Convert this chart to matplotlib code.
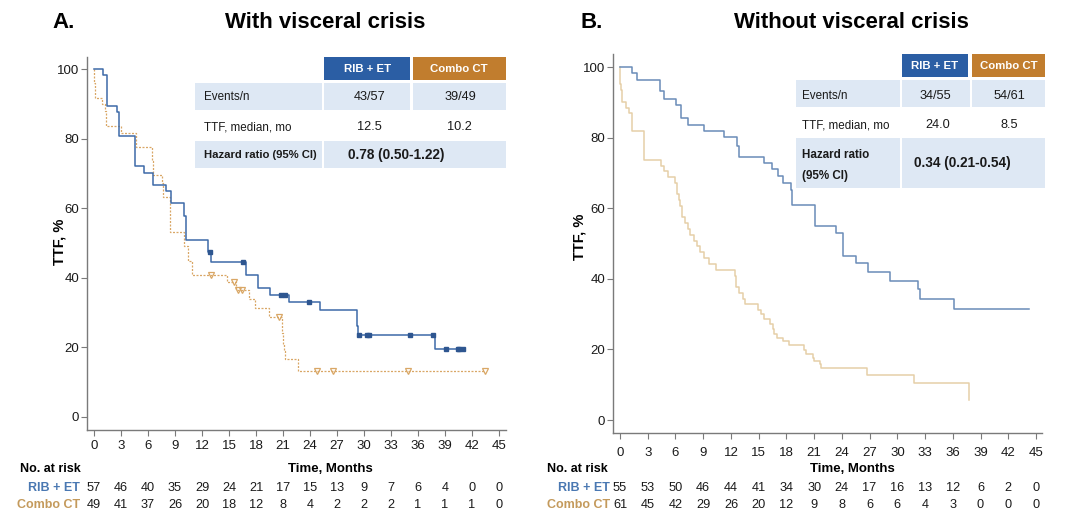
import matplotlib
matplotlib.use("Agg")
import matplotlib.pyplot as plt
import numpy as np
from matplotlib import font_manager
from matplotlib.patches import Rectangle
from matplotlib.transforms import blended_transform_factory

# ---- data ----
months = [0, 3, 6, 9, 12, 15, 18, 21, 24, 27, 30, 33, 36, 39, 42, 45]
y_ticks = [0, 20, 40, 60, 80, 100]

# Panel A: with visceral crisis (step times in months, TTF % after each step)
a_rib_t = [0, 1.0, 1.4, 2.5, 2.75, 4.6, 5.5, 6.5, 8.0, 8.6, 10.0, 10.2, 12.7, 13.0,
           16.85, 18.2, 19.5, 21.7, 25.1, 29.2, 29.35, 37.9, 41.0]
a_rib_s = [100, 98.2, 89.5, 87.7, 80.7, 72.0, 70.2, 66.7, 64.9, 61.4, 57.9, 50.9, 47.4, 44.5,
           40.8, 37.0, 35.1, 33.0, 30.8, 26.1, 23.7, 19.4, 19.4]
a_rib_cens = [12.9, 16.56, 20.8, 21.2, 23.9, 29.45, 30.3, 30.55, 35.1, 37.7, 39.1, 40.4, 40.6, 41.0]

a_cmb_t = [0, 0.05, 0.1, 0.94, 1.19, 1.3, 3.05, 4.7, 6.4, 6.6, 7.5, 7.7, 8.4, 10.0, 10.4, 10.9,
           14.8, 15.8, 17.2, 17.9, 19.4, 20.9, 21.0, 21.1, 21.2, 22.7, 43.5]
a_cmb_s = [100, 95.9, 91.8, 89.8, 87.8, 83.7, 81.6, 77.6, 73.5, 69.4, 67.3, 63.3, 53.1, 49.0, 44.9, 40.8,
           38.7, 36.4, 33.8, 31.2, 28.6, 24.0, 21.0, 19.0, 16.7, 13.3, 13.3]
a_cmb_cens = [13.0, 15.5, 16.0, 16.4, 20.6, 24.8, 26.6, 34.9, 43.5]

a_risk_rib = [57, 46, 40, 35, 29, 24, 21, 17, 15, 13, 9, 7, 6, 4, 0, 0]
a_risk_cmb = [49, 41, 37, 26, 20, 18, 12, 8, 4, 2, 2, 2, 1, 1, 1, 0]

# Panel B: without visceral crisis
b_rib_t = [0, 1.31, 1.87, 4.34, 4.76, 6.10, 6.59, 7.40, 9.1, 11.27, 12.68, 12.86, 15.6, 16.4,
           17.1, 17.6, 18.5, 18.6, 21.1, 23.4, 24.1, 25.5, 26.8, 29.2, 32.2, 32.5, 36.1, 44.2]
b_rib_s = [100, 98.2, 96.4, 93.1, 90.9, 89.3, 85.6, 83.7, 82.0, 80.2, 77.5, 74.5, 72.8, 71.1,
           69.1, 67.2, 65.3, 61.0, 54.9, 53.0, 46.4, 44.5, 41.9, 39.3, 37.0, 34.3, 31.5, 31.5]

b_cmb_t = [0, 0.03, 0.12, 0.2, 0.7, 0.95, 1.25, 2.6, 4.4, 4.8, 5.2, 6.0, 6.15, 6.35, 6.5, 6.75,
           7.0, 7.3, 7.6, 8.0, 8.3, 8.6, 9.1, 9.6, 10.4, 12.4, 12.6, 12.9, 13.3, 13.5, 14.9, 15.3,
           15.6, 16.2, 16.5, 16.7, 17.0, 17.6, 18.3, 19.9, 20.1, 20.9, 21.0, 21.6, 21.7, 26.7, 31.8, 37.7]
b_cmb_s = [100, 95.1, 93.4, 90.2, 88.5, 86.9, 82.0, 73.8, 72.1, 70.5, 68.9, 67.2, 63.9, 62.3, 60.7, 57.4,
           55.7, 54.1, 52.5, 50.8, 49.2, 47.5, 45.9, 44.3, 42.6, 40.9, 37.6, 36.0, 34.4, 32.8, 31.2, 29.9,
           28.5, 27.1, 25.7, 24.3, 23.3, 22.4, 21.2, 19.8, 18.6, 17.7, 16.7, 15.8, 14.8, 12.7, 10.4, 5.8]

b_risk_rib = [55, 53, 50, 46, 44, 41, 34, 30, 24, 17, 16, 13, 12, 6, 2, 0]
b_risk_cmb = [61, 45, 42, 29, 26, 20, 12, 9, 8, 6, 6, 4, 3, 0, 0, 0]

# summary tables
col_heads = ["RIB + ET", "Combo CT"]
a_events = ["43/57", "39/49"]
a_median = ["12.5", "10.2"]
a_hr = "0.78 (0.50-1.22)"
b_events = ["34/55", "54/61"]
b_median = ["24.0", "8.5"]
b_hr = "0.34 (0.21-0.54)"

# ---- styling ----
BLUE_HEAD = "#2B5EA4"
ORANGE_HEAD = "#C17D2E"
CELL = "#DEE8F4"
RIB_A = "#3D6AA8"
CMB_A = "#D9A766"
RIB_B = "#6A8CB8"
CMB_B = "#E6CFA8"
RIB_LABEL = "#4A78B2"
CMB_LABEL = "#C49A5C"
AXIS = "#7A7A7A"

available = {f.name for f in font_manager.fontManager.ttflist}
has_narrow = "Liberation Sans Narrow" in available
NARROW = "Liberation Sans Narrow" if has_narrow else "Liberation Sans"
lsize = 9.6 if has_narrow else 8.4   # row labels / headers (condensed in the original)
vsize = 9.2                          # cell values
plt.rcParams["font.family"] = ["Liberation Sans", "DejaVu Sans"]

W, H = 1080, 531
fig = plt.figure(figsize=(W / 100, H / 100), dpi=100)


def px_rect(left, top, right, bottom):
    return [left / W, 1 - bottom / H, (right - left) / W, (bottom - top) / H]


ax_a = fig.add_axes(px_rect(87, 57, 506, 430))
ax_b = fig.add_axes(px_rect(613, 54, 1042, 433))
over = fig.add_axes([0, 0, 1, 1], zorder=5)
over.set_xlim(0, W)
over.set_ylim(H, 0)
over.axis("off")


def style_axes(ax, xlim, ylim, xpad):
    ax.set_xlim(*xlim)
    ax.set_ylim(*ylim)
    ax.set_xticks(months)
    ax.set_yticks(y_ticks)
    for side in ["top", "right"]:
        ax.spines[side].set_visible(False)
    for side in ["left", "bottom"]:
        ax.spines[side].set_color(AXIS)
        ax.spines[side].set_linewidth(1.0)
    ax.tick_params(direction="out", length=4, width=0.8, color=AXIS,
                   labelsize=9.5, labelcolor="#1a1a1a")
    ax.tick_params(axis="y", pad=1.5)
    ax.tick_params(axis="x", pad=xpad)


def censor_y(t, s, cens):
    idx = np.searchsorted(t, cens, side="right") - 1
    return np.asarray(s)[idx]


style_axes(ax_a, (-0.78, 45.78), (-3.74, 103.45), 3)
style_axes(ax_b, (-0.76, 45.65), (-3.68, 103.7), 6)

# panel A curves
ax_a.step(a_cmb_t, a_cmb_s, where="post", color=CMB_A, lw=0.9, ls=(0, (1.6, 1.2)))
ax_a.plot(a_cmb_cens, censor_y(a_cmb_t, a_cmb_s, a_cmb_cens), ls="none", marker="v",
          ms=4, mfc="none", mec=CMB_A, mew=0.9)
ax_a.step(a_rib_t, a_rib_s, where="post", color=RIB_A, lw=1.1)
ax_a.plot(a_rib_cens, censor_y(a_rib_t, a_rib_s, a_rib_cens), ls="none", marker="s",
          ms=2.5, color="#2E5690")

# panel B curves
ax_b.step(b_cmb_t, b_cmb_s, where="post", color=CMB_B, lw=1.1)
ax_b.step(b_rib_t, b_rib_s, where="post", color=RIB_B, lw=1.1)

# titles and axis labels
over.text(52, 22, "A.", fontsize=16, fontweight="bold", ha="left", va="center")
over.text(325, 22, "With visceral crisis", fontsize=16, fontweight="bold", ha="center", va="center")
over.text(580, 22, "B.", fontsize=16, fontweight="bold", ha="left", va="center")
over.text(851, 22, "Without visceral crisis", fontsize=16, fontweight="bold", ha="center", va="center")
over.text(60, 242, "TTF, %", fontsize=10.5, fontweight="bold", rotation=90, ha="center", va="center")
over.text(580, 237, "TTF, %", fontsize=10.5, fontweight="bold", rotation=90, ha="center", va="center")


# number at risk tables
def risk_table(ax, lab_left, lab_right, time_x, rib, cmb):
    trans = blended_transform_factory(ax.transData, over.transData)
    over.text(lab_left, 469, "No. at risk", fontsize=9, fontweight="bold", ha="left", va="center")
    over.text(time_x, 469, "Time, Months", fontsize=9.5, fontweight="bold", ha="center", va="center")
    over.text(lab_right, 488, "RIB + ET", fontsize=9, fontweight="bold", color=RIB_LABEL,
              ha="right", va="center")
    over.text(lab_right, 505, "Combo CT", fontsize=9, fontweight="bold", color=CMB_LABEL,
              ha="right", va="center")
    for m, r, c in zip(months, rib, cmb):
        ax.text(m, 488, str(r), transform=trans, fontsize=9.2, ha="center", va="center", color="#1a1a1a")
        ax.text(m, 505, str(c), transform=trans, fontsize=9.2, ha="center", va="center", color="#1a1a1a")


risk_table(ax_a, 20, 80, 330, a_risk_rib, a_risk_cmb)
risk_table(ax_b, 547, 610, 852, b_risk_rib, b_risk_cmb)


def cell(x0, y0, x1, y1, color):
    over.add_patch(Rectangle((x0, y0), x1 - x0, y1 - y0, facecolor=color, edgecolor="none"))


def label(x, y, s, ha="left", bold=False, color="#1a1a1a", size=lsize):
    over.text(x, y, s, fontsize=size, family=NARROW, fontweight="bold" if bold else "normal",
              ha=ha, va="center", color=color)


def value(x, y, s, bold=False, size=vsize):
    over.text(x, y, s, fontsize=size, fontweight="bold" if bold else "normal",
              ha="center", va="center", color="#1a1a1a")


# summary table A
cell(324, 57, 410, 80, BLUE_HEAD)
cell(413, 57, 506, 80, ORANGE_HEAD)
cell(195, 83, 322, 110, CELL)
cell(324, 83, 410, 110, CELL)
cell(413, 83, 506, 110, CELL)
cell(195, 141, 322, 168, CELL)
cell(324, 141, 506, 168, CELL)
label(368, 69, col_heads[0], ha="center", bold=True, color="white", size=8.2)
label(459, 69, col_heads[1], ha="center", bold=True, color="white", size=8.2)
label(204, 97, "Events/n")
value(370, 97, a_events[0])
value(460, 97, a_events[1])
label(204, 127, "TTF, median, mo")
value(369, 127, a_median[0])
value(459, 127, a_median[1])
label(204, 155, "Hazard ratio (95% CI)", bold=True, size=8.1)
value(396, 155, a_hr, bold=True, size=9.8)

# summary table B
cell(902, 54, 968, 77, BLUE_HEAD)
cell(972, 54, 1045, 77, ORANGE_HEAD)
cell(796, 80, 900, 107, CELL)
cell(902, 80, 970, 107, CELL)
cell(972, 80, 1045, 107, CELL)
cell(796, 138, 900, 188, CELL)
cell(902, 138, 1045, 188, CELL)
label(935, 66, col_heads[0], ha="center", bold=True, color="white", size=8.2)
label(1009, 66, col_heads[1], ha="center", bold=True, color="white", size=8.2)
label(802, 96, "Events/n")
value(935, 96, b_events[0])
value(1009, 96, b_events[1])
label(802, 125, "TTF, median, mo")
value(938, 125, b_median[0])
value(1009, 125, b_median[1])
label(802, 155, "Hazard ratio", bold=True)
label(802, 176, "(95% CI)", bold=True)
value(962, 163, b_hr, bold=True, size=9.8)

fig.savefig("out.png", dpi=100, facecolor="white")
